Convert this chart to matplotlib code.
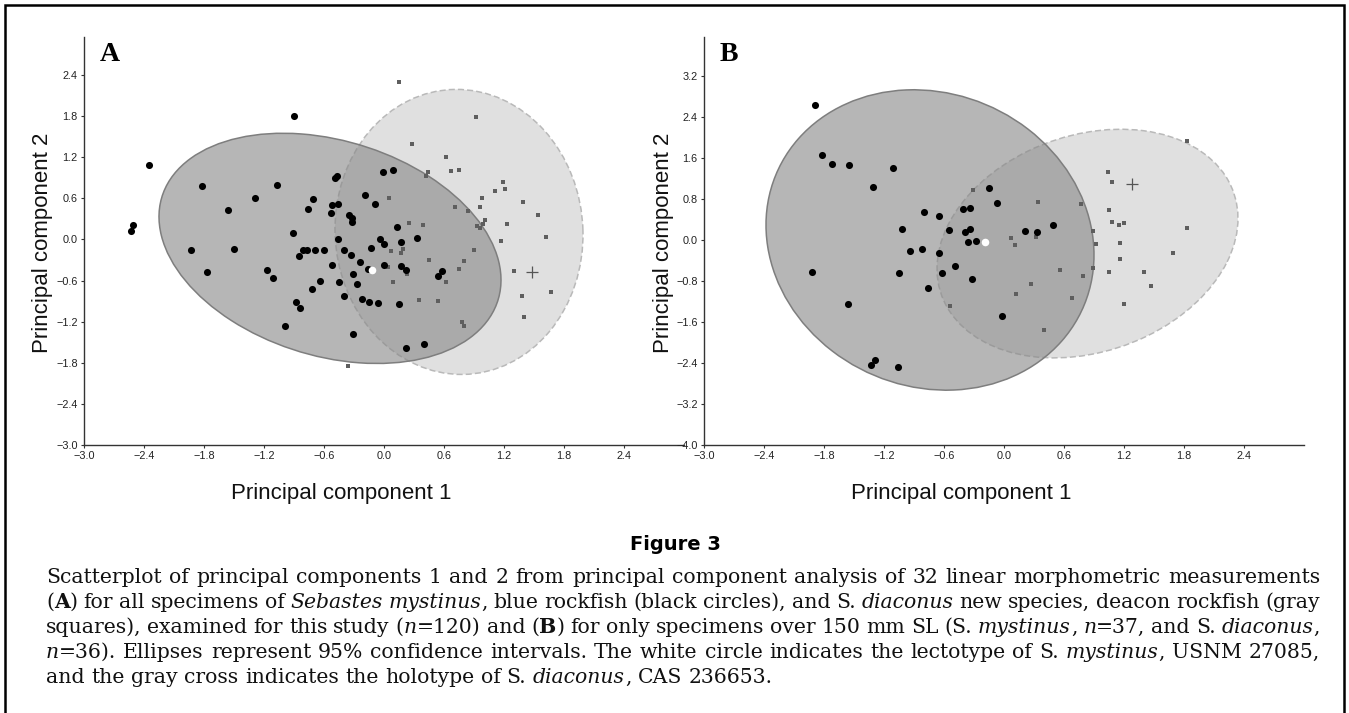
import re
import numpy as np
import matplotlib
matplotlib.use("Agg")
import matplotlib.pyplot as plt
from matplotlib.patches import Ellipse, Rectangle

# ---------------- data: panel A ----------------
a_myst_x = [-0.90, -2.35, -1.82, -1.07, -1.29, -1.56, -0.71, -0.76, -0.52, -0.46, -0.53, -0.49,
            -0.47, -0.01, -0.19, -0.09, -0.35, -0.32, -0.32, -0.91, -0.46, -0.04, 0.00, -2.53,
            -2.51, -1.93, -1.50, -1.77, -1.17, -1.11, -0.85, -0.81, -0.77, -0.69, -0.60, -0.52,
            -0.64, -0.72, -0.88, -0.84, -0.99, -0.31, -0.45, -0.40, -0.40, -0.33, -0.24, -0.31,
            -0.27, -0.22, -0.15, -0.06, -0.13, 0.00, -0.16, 0.09, 0.13, 0.33, 0.17, 0.17,
            0.22, 0.58, 0.54, 0.15, 0.22, 0.40]
a_myst_y = [1.80, 1.08, 0.78, 0.79, 0.60, 0.43, 0.59, 0.45, 0.51, 0.52, 0.38, 0.89,
            0.93, 0.98, 0.65, 0.52, 0.36, 0.31, 0.25, 0.10, 0.01, 0.01, -0.06, 0.12,
            0.21, -0.15, -0.14, -0.47, -0.44, -0.56, -0.24, -0.15, -0.16, -0.15, -0.15, -0.37,
            -0.60, -0.73, -0.91, -1.00, -1.27, -1.38, -0.62, -0.82, -0.16, -0.22, -0.33, -0.50,
            -0.65, -0.87, -0.91, -0.93, -0.12, -0.38, -0.43, 1.02, 0.18, 0.02, -0.03, -0.39,
            -0.45, -0.46, -0.54, -0.94, -1.59, -1.53]
a_diac_x = [0.15, 0.92, 0.28, 0.62, 0.67, 0.75, 0.44, 0.42, 0.05, 1.19, 1.21, 1.11,
            0.98, 0.96, 0.71, 0.84, 1.39, 1.54, 1.01, 0.99, 0.93, 0.96, 1.23, 1.62,
            1.17, 0.25, 0.39, 0.07, 0.17, 0.19, 0.04, 0.23, 0.09, 0.45, 0.90, 0.80,
            0.75, 0.62, 0.35, 0.54, 0.78, 0.80, 1.30, 1.38, 1.40, 1.67, -0.36]
a_diac_y = [2.30, 1.79, 1.40, 1.21, 1.00, 1.01, 0.99, 0.93, 0.60, 0.84, 0.74, 0.71,
            0.60, 0.48, 0.47, 0.41, 0.55, 0.35, 0.28, 0.23, 0.19, 0.16, 0.22, 0.04,
            -0.02, 0.24, 0.21, -0.17, -0.20, -0.14, -0.40, -0.50, -0.62, -0.30, -0.16, -0.32,
            -0.43, -0.62, -0.88, -0.90, -1.20, -1.27, -0.46, -0.83, -1.13, -0.77, -1.85]
a_lectotype = (-0.12, -0.44)
a_holotype = (1.48, -0.48)
# 95% ellipses: centre x, centre y, half extent x, half extent y, correlation
a_myst_ellipse = [-0.54, -0.13, 1.71, 1.68, -0.275]
a_diac_ellipse = [0.75, 0.11, 1.24, 2.08, -0.02]

# ---------------- data: panel B ----------------
b_myst_x = [-1.89, -1.82, -1.72, -1.55, -1.11, -1.31, -0.80, -0.65, -1.02, -0.55, -0.41, -0.34,
            -0.39, -0.34, -0.36, -0.28, -0.15, -0.07, -0.94, -0.82, -0.65, -1.92, -1.05, -0.62,
            -0.49, -0.76, -0.32, -1.56, -1.33, -1.29, -1.06, 0.21, 0.33, 0.49, -0.02]
b_myst_y = [2.64, 1.65, 1.48, 1.46, 1.40, 1.03, 0.54, 0.47, 0.21, 0.20, 0.60, 0.63,
            0.16, 0.21, -0.03, -0.02, 1.01, 0.73, -0.21, -0.18, -0.26, -0.63, -0.65, -0.64,
            -0.50, -0.93, -0.77, -1.24, -2.43, -2.34, -2.48, 0.18, 0.16, 0.29, -1.49]
b_diac_x = [-0.31, -0.54, 0.34, 0.77, 1.83, 1.04, 1.08, 1.05, 1.08, 1.15, 1.20, 1.83,
            0.89, 0.92, 1.16, 0.07, 0.32, 0.11, 1.16, 1.69, 0.56, 0.79, 0.89, 1.05,
            1.40, 1.47, 1.20, 0.27, 0.12, 0.68, 0.40]
b_diac_y = [0.98, -1.29, 0.75, 0.71, 1.93, 1.32, 1.14, 0.59, 0.36, 0.30, 0.34, 0.23,
            0.18, -0.08, -0.05, 0.04, 0.05, -0.10, -0.37, -0.26, -0.59, -0.70, -0.54, -0.63,
            -0.62, -0.90, -1.24, -0.85, -1.06, -1.13, -1.76]
b_lectotype = (-0.19, -0.03)
b_holotype = (1.28, 1.10)
b_myst_ellipse = [-0.74, 0.00, 1.64, 2.93, -0.10]
b_diac_ellipse = [0.835, -0.07, 1.505, 2.23, 0.22]

# ticks
a_xticks = [-3.0, -2.4, -1.8, -1.2, -0.6, 0.0, 0.6, 1.2, 1.8, 2.4]
a_yticks = [-3.0, -2.4, -1.8, -1.2, -0.6, 0.0, 0.6, 1.2, 1.8, 2.4]
b_xticks = [-3.0, -2.4, -1.8, -1.2, -0.6, 0.0, 0.6, 1.2, 1.8, 2.4]
b_yticks = [-4.0, -3.2, -2.4, -1.6, -0.8, 0.0, 0.8, 1.6, 2.4, 3.2]

xlabel = "Principal component 1"
ylabel = "Principal component 2"
fig_title = "Figure 3"
caption_lines = [
    "Scatterplot of principal components 1 and 2 from principal component analysis of 32 linear morphometric measurements",
    "(**A**) for all specimens of *Sebastes* *mystinus*, blue rockfish (black circles), and S. *diaconus* new species, deacon rockfish (gray",
    "squares), examined for this study (*n*=120) and (**B**) for only specimens over 150 mm SL (S. *mystinus*, *n*=37, and S. *diaconus*,",
    "*n*=36). Ellipses represent 95% confidence intervals. The white circle indicates the lectotype of S. *mystinus*, USNM 27085,",
    "and the gray cross indicates the holotype of S. *diaconus*, CAS 236653.",
]

# ---------------- figure ----------------
W, H = 1349, 713
fig = plt.figure(figsize=(W / 100, H / 100), dpi=100)
fig.patch.set_facecolor("white")


def fx(px):
    return px / W


def fy(py):
    return 1 - py / H


fig.add_artist(Rectangle((fx(5), fy(716)), fx(1344) - fx(5), fy(5) - fy(716),
                         transform=fig.transFigure, fill=False, lw=1.8, ec="black",
                         clip_on=False))


def fmt(v):
    return f"{v:.1f}".replace("-", "\u2212")


def add_cov_ellipse(ax, params, **kw):
    cx, cy, sx, sy, rho = params
    cov = np.array([[sx * sx, rho * sx * sy], [rho * sx * sy, sy * sy]])
    vals, vecs = np.linalg.eigh(cov)
    order = vals.argsort()[::-1]
    vals, vecs = vals[order], vecs[:, order]
    ang = np.degrees(np.arctan2(vecs[1, 0], vecs[0, 0]))
    e = Ellipse((cx, cy), 2 * np.sqrt(vals[0]), 2 * np.sqrt(vals[1]), angle=ang, **kw)
    ax.add_patch(e)


def panel(left_px, ylim, xticks, yticks, mx, my, dx, dy, lecto, holo, e_m, e_d, letter):
    ax = fig.add_axes([fx(left_px), fy(445), 600 / W, 408 / H])
    ax.set_xlim(-3.0, 3.0)
    ax.set_ylim(*ylim)
    add_cov_ellipse(ax, e_d, facecolor="#e0e0e0", edgecolor="#b9b9b9", lw=1.1,
                    linestyle=(0, (4, 2)), zorder=1)
    add_cov_ellipse(ax, e_m, facecolor=(0.533, 0.533, 0.533, 0.61), edgecolor="#7e7e7e",
                    lw=1.1, zorder=2)
    ax.scatter(dx, dy, marker="s", s=12, c="#5e5e5e", linewidths=0, zorder=3)
    ax.scatter(mx, my, marker="o", s=26, c="black", linewidths=0, zorder=4)
    ax.scatter([lecto[0]], [lecto[1]], marker="o", s=30, c="white", linewidths=0, zorder=5)
    ax.plot([holo[0]], [holo[1]], marker="+", ms=9, mew=0.9, color="#555555", zorder=5)
    ax.set_xticks(xticks)
    ax.set_xticklabels([fmt(v) for v in xticks])
    ax.set_yticks(yticks)
    ax.set_yticklabels([fmt(v) for v in yticks])
    for s in ("top", "right"):
        ax.spines[s].set_visible(False)
    for s in ("left", "bottom"):
        ax.spines[s].set_linewidth(1.0)
        ax.spines[s].set_color("#333333")
    ax.tick_params(direction="out", length=2.5, width=0.8, color="#333333",
                   labelsize=7.8, labelcolor="#222222", pad=2)
    for lab in ax.get_xticklabels() + ax.get_yticklabels():
        lab.set_family(["Liberation Sans", "DejaVu Sans"])
    ax.set_facecolor("none")
    fig.text(fx(left_px + 16), fy(42), letter, ha="left", va="top", fontsize=20,
             fontweight="bold", family=["Liberation Serif", "DejaVu Serif"])
    fig.text(fx(left_px + 257), fy(493), xlabel, ha="center", va="center", fontsize=16,
             family=["Liberation Sans", "DejaVu Sans"], color="#111111")
    fig.text(fx(left_px - 41), fy(243), ylabel, ha="center", va="center", rotation=90,
             fontsize=16, family=["Liberation Sans", "DejaVu Sans"], color="#111111")
    return ax


panel(84, (-3.0, 2.955), a_xticks, a_yticks, a_myst_x, a_myst_y, a_diac_x, a_diac_y,
      a_lectotype, a_holotype, a_myst_ellipse, a_diac_ellipse, "A")
panel(704, (-4.0, 3.96), b_xticks, b_yticks, b_myst_x, b_myst_y, b_diac_x, b_diac_y,
      b_lectotype, b_holotype, b_myst_ellipse, b_diac_ellipse, "B")

fig.text(fx(675), fy(544), fig_title, ha="center", va="center", fontsize=14,
         fontweight="heavy", family=["DejaVu Sans"])

# ---------------- justified caption ----------------
renderer = fig.canvas.get_renderer()
cap_family = ["DejaVu Serif"]


def parse_word(word):
    parts = []
    for tok in re.split(r"(\*\*[^*]+\*\*|\*[^*]+\*)", word):
        if not tok:
            continue
        if tok.startswith("**"):
            parts.append((tok[2:-2], "bold"))
        elif tok.startswith("*"):
            parts.append((tok[1:-1], "italic"))
        else:
            parts.append((tok, "normal"))
    return parts


def style_kw(style):
    return dict(fontstyle="italic" if style == "italic" else "normal",
                fontweight="bold" if style == "bold" else "normal")


def measure(s, style, fs):
    t = fig.text(0, 0, s, fontsize=fs, family=cap_family, **style_kw(style))
    w = t.get_window_extent(renderer).width
    t.remove()
    return w


left, right = 46, 1320
words0 = [parse_word(w) for w in caption_lines[0].split(" ")]
fs0 = 12.0
sp0 = measure("x x", "normal", fs0) - measure("xx", "normal", fs0)
nat0 = sum(measure(p, st, fs0) for wd in words0 for p, st in wd) + sp0 * (len(words0) - 1)
cap_fs = fs0 * (right - left) / nat0 * 0.985
space_w = measure("x x", "normal", cap_fs) - measure("xx", "normal", cap_fs)

baselines = [583, 608, 633, 658, 683]
for i, line in enumerate(caption_lines):
    words = [parse_word(w) for w in line.split(" ")]
    widths = [[measure(p, st, cap_fs) for p, st in wd] for wd in words]
    total = sum(sum(w) for w in widths)
    if i < len(caption_lines) - 1:
        gap = (right - left - total) / (len(words) - 1)
    else:
        gap = space_w
    x = left
    for wd, ws in zip(words, widths):
        for (p, st), w in zip(wd, ws):
            fig.text(fx(x), fy(baselines[i]), p, ha="left", va="baseline", fontsize=cap_fs,
                     family=cap_family, color="#111111", **style_kw(st))
            x += w
        x += gap

fig.savefig("out.png", dpi=100, facecolor="white")
